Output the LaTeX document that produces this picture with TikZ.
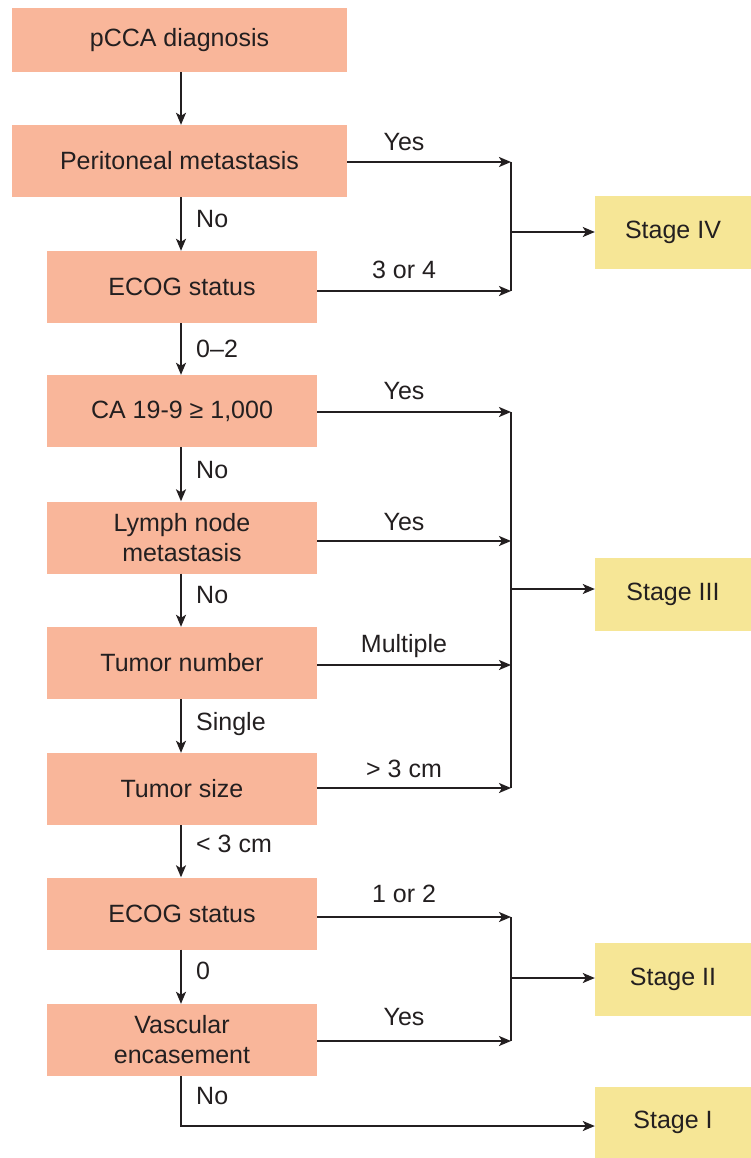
\documentclass[tikz,border=0pt]{standalone}
\usepackage{fontspec}
\setmainfont{Liberation Sans}
\usetikzlibrary{arrows.meta,calc}
\definecolor{salmon}{RGB}{249,182,154}
\definecolor{sand}{RGB}{246,230,150}
\definecolor{ink}{RGB}{35,31,32}
\begin{document}
\begin{tikzpicture}[x=1pt,y=-1pt,
  txt/.style={text=ink,font=\fontsize{25}{30}\selectfont},
  stepbox/.style={txt,fill=salmon,draw=none,minimum width=270pt,minimum height=72pt,inner sep=0pt,align=center},
  stagebox/.style={txt,fill=sand,draw=none,minimum width=156pt,minimum height=73pt,inner sep=0pt},
  lab/.style={txt,inner sep=0pt,anchor=base},
  vlab/.style={txt,inner sep=0pt,anchor=base west},
  ln/.style={draw=ink,line width=1.8pt},
  arr/.style={ln,-{Stealth[length=12pt,width=10pt,inset=3pt]}}]
\useasboundingbox (0,0) rectangle (751,1158);

% decision boxes
\node[stepbox,minimum width=335pt,minimum height=64pt] (d0) at (179.5,40) {pCCA diagnosis};
\node[stepbox,minimum width=335pt] (d1) at (179.5,161) {Peritoneal metastasis};
\node[stepbox] (d2) at (182,287) {ECOG status};
\node[stepbox] (d3) at (182,411) {CA 19-9 ≥ 1,000};
\node[stepbox] (d4) at (182,537.5) {Lymph node\\metastasis};
\node[stepbox] (d5) at (182,663) {Tumor number};
\node[stepbox] (d6) at (182,789) {Tumor size};
\node[stepbox] (d7) at (182,913.5) {ECOG status};
\node[stepbox] (d8) at (182,1040) {Vascular\\encasement};

% stage boxes
\node[stagebox] (s4) at (673,232.5) {Stage IV};
\node[stagebox] (s3) at (673,594.5) {Stage III};
\node[stagebox] (s2) at (673,979) {Stage II};
\node[stagebox,minimum height=71pt] (s1) at (673,1122.5) {Stage I};

% helper coordinates
\coordinate (ax) at (181,0);
\coordinate (bx) at (511,0);
\coordinate (e1) at ([yshift=-1pt]d1.east);
\coordinate (e2) at ([yshift=-4pt]d2.east);
\coordinate (e3) at ([yshift=-1pt]d3.east);
\coordinate (e4) at ([yshift=-3.5pt]d4.east);
\coordinate (e5) at ([yshift=-2pt]d5.east);
\coordinate (e6) at ([yshift=1pt]d6.east);
\coordinate (e7) at ([yshift=-3.5pt]d7.east);
\coordinate (e8) at ([yshift=-1pt]d8.east);
\coordinate (m4) at (511,232);
\coordinate (m3) at (511,589);
\coordinate (m2) at (511,978);
\coordinate (e9) at ([yshift=-3.5pt]s1.west);

% vertical flow
\draw[arr] (d0.south -| ax) -- (d1.north -| ax);
\draw[arr] (d1.south -| ax) -- (d2.north -| ax);
\draw[arr] (d2.south -| ax) -- (d3.north -| ax);
\draw[arr] (d3.south -| ax) -- (d4.north -| ax);
\draw[arr] (d4.south -| ax) -- (d5.north -| ax);
\draw[arr] (d5.south -| ax) -- (d6.north -| ax);
\draw[arr] (d6.south -| ax) -- (d7.north -| ax);
\draw[arr] (d7.south -| ax) -- (d8.north -| ax);
\draw[arr] (d8.south -| ax) |- (e9);

% horizontal branches
\draw[arr] (e1) -- (e1 -| bx);
\draw[arr] (e2) -- (e2 -| bx);
\draw[arr] (e3) -- (e3 -| bx);
\draw[arr] (e4) -- (e4 -| bx);
\draw[arr] (e5) -- (e5 -| bx);
\draw[arr] (e6) -- (e6 -| bx);
\draw[arr] (e7) -- (e7 -| bx);
\draw[arr] (e8) -- (e8 -| bx);

% collecting bars
\draw[ln] (e1 -| bx) -- (e2 -| bx);
\draw[ln] (e3 -| bx) -- (e6 -| bx);
\draw[ln] (e7 -| bx) -- (e8 -| bx);

% to stages
\draw[arr] (m4) -- (m4 -| s4.west);
\draw[arr] (m3) -- (m3 -| s3.west);
\draw[arr] (m2) -- (m2 -| s2.west);

% branch labels
\node[lab] (h1) at (404,151) {Yes};
\node[lab] (h2) at (404,278) {3 or 4};
\node[lab] (h3) at (404,399) {Yes};
\node[lab] (h4) at (404,530) {Yes};
\node[lab] (h5) at (404,652) {Multiple};
\node[lab] (h6) at (404,777) {> 3 cm};
\node[lab] (h7) at (404,902) {1 or 2};
\node[lab] (h8) at (404,1025) {Yes};

% flow labels
\node[vlab] (v1) at (196,228) {No};
\node[vlab] (v2) at (196,357) {0–2};
\node[vlab] (v3) at (196,478) {No};
\node[vlab] (v4) at (196,603) {No};
\node[vlab] (v5) at (196,730) {Single};
\node[vlab] (v6) at (196,852) {< 3 cm};
\node[vlab] (v7) at (196,979) {0};
\node[vlab] (v8) at (196,1104) {No};
\end{tikzpicture}
\end{document}
